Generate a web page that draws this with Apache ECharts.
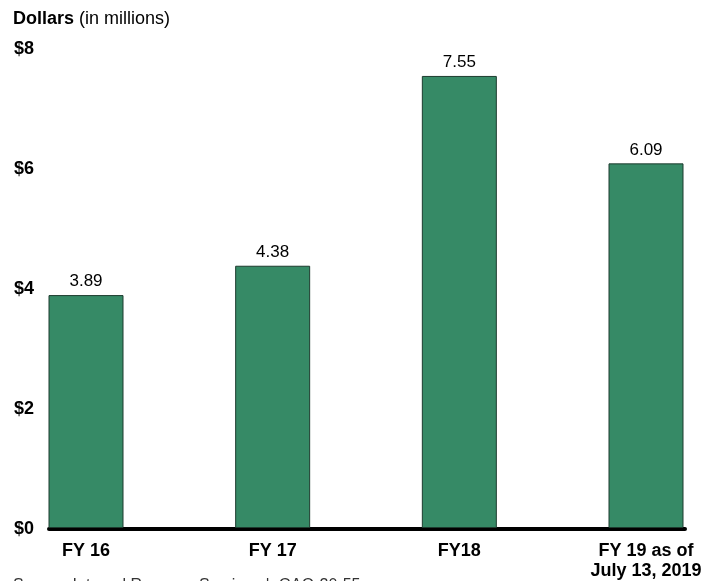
<!DOCTYPE html>
<html><head><meta charset="utf-8">
<script src="https://cdn.jsdelivr.net/npm/echarts@6/dist/echarts.min.js"></script>
<style>html,body{margin:0;padding:0;background:#fff}#c{width:705px;height:581px}</style>
</head><body><div id="c"></div>
<script>
const categories = ['FY 16', 'FY 17', 'FY18', 'FY 19 as of\nJuly 13, 2019'];
const values = [3.89, 4.38, 7.55, 6.09];
const yTicks = [0, 2, 4, 6, 8];
const titleBold = 'Dollars';
const titleRest = ' (in millions)';
const source = 'Source: Internal Revenue Service.  |  GAO-20-55';

const font = 'Liberation Sans, Arial, Helvetica, sans-serif';
const chart = echarts.init(document.getElementById('c'), null, {renderer: 'canvas'});
chart.setOption({
  animation: false,
  backgroundColor: '#fff',
  textStyle: {fontFamily: font},
  title: [
    {text: '{b|' + titleBold + '}{r|' + titleRest + '}', left: 8, top: 5,
     textStyle: {fontWeight: 'normal', rich: {
       b: {fontFamily: font, fontSize: 18, fontWeight: 'bold', color: '#000'},
       r: {fontFamily: font, fontSize: 18, fontWeight: 'normal', color: '#000'}}}},
    {text: source, left: 8, top: 573,
     textStyle: {fontFamily: font, fontSize: 16, fontWeight: 'normal', color: '#333'}}
  ],
  grid: [
    {left: 86, right: 59, top: 49, bottom: 52},
    {left: 49, right: 20, top: 49, bottom: 52}
  ],
  xAxis: [
    {type: 'category', gridIndex: 0, data: categories, boundaryGap: false,
     axisLine: {show: false}, axisTick: {show: false},
     axisLabel: {fontFamily: font, fontSize: 18, fontWeight: 'bold', color: '#000', margin: 13, lineHeight: 20, interval: 0}},
    {type: 'category', gridIndex: 1, data: categories,
     axisLine: {show: true, lineStyle: {color: '#000', width: 4}}, axisTick: {show: false},
     axisLabel: {show: false}}
  ],
  yAxis: [
    {type: 'value', gridIndex: 0, min: 0, max: 8, interval: 2, show: false, splitLine: {show: false}},
    {type: 'value', gridIndex: 1, min: yTicks[0], max: yTicks[yTicks.length - 1], interval: 2,
     axisLine: {show: false}, axisTick: {show: false}, splitLine: {show: false},
     axisLabel: {fontFamily: font, fontSize: 18, fontWeight: 'bold', color: '#000', margin: 15,
                 formatter: v => '$' + v}}
  ],
  series: [{
    type: 'bar', xAxisIndex: 0, yAxisIndex: 0, data: values, barWidth: 75,
    itemStyle: {color: '#368A66', borderColor: '#1d3b2e', borderWidth: 1},
    label: {show: true, position: 'top', distance: 5, fontFamily: font, fontSize: 17, color: '#000',
            formatter: p => p.value.toFixed(2)}
  }]
});
</script></body></html>
